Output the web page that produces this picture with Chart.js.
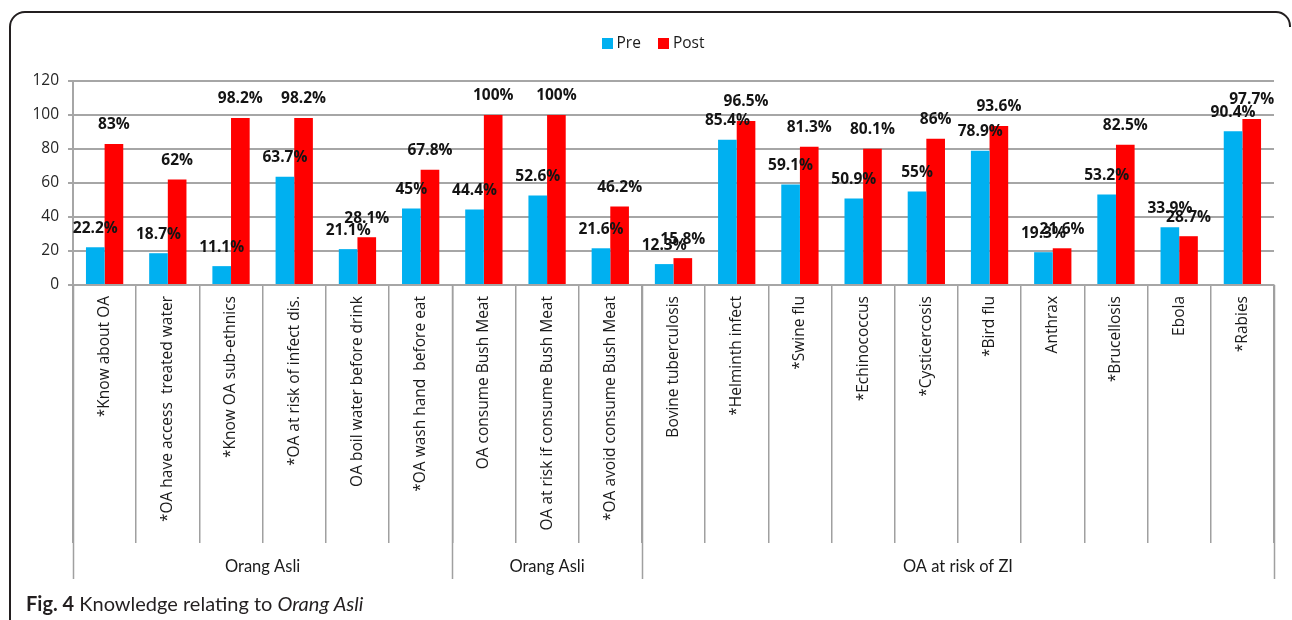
<!DOCTYPE html>
<html>
<head>
<meta charset="utf-8">
<title>Knowledge relating to Orang Asli</title>
<script src="https://cdn.jsdelivr.net/npm/chart.js@4.4.1/dist/chart.umd.min.js"></script>
<style>
  html, body { margin: 0; padding: 0; background: #ffffff; }
  #wrap { position: relative; width: 1292px; height: 620px; }
  canvas { display: block; }
</style>
</head>
<body>
<div id="wrap"><canvas id="chart" width="1292" height="620"></canvas></div>
<script>
// Survey items (x categories)
const categories = [
  '*Know about OA',
  '*OA have access  treated water',
  '*Know OA sub-ethnics',
  '*OA at risk of infect dis.',
  'OA boil water before drink',
  '*OA wash hand  before eat',
  'OA consume Bush Meat',
  'OA at risk if consume Bush Meat',
  '*OA avoid consume Bush Meat',
  'Bovine tuberculosis',
  '*Helminth infect',
  '*Swine flu',
  '*Echinococcus',
  '*Cysticercosis',
  '*Bird flu',
  'Anthrax',
  '*Brucellosis',
  'Ebola',
  '*Rabies'
];

// Category groups shown under the item labels
const groupNames = ['Orang Asli', 'Orang Asli', 'OA at risk of ZI'];
const groupSizes = [6, 3, 10];

// Percentages before and after the programme
const seriesNames = ['Pre', 'Post'];
const preValues  = [22.2, 18.7, 11.1, 63.7, 21.1, 45, 44.4, 52.6, 21.6, 12.3, 85.4, 59.1, 50.9, 55, 78.9, 19.3, 53.2, 33.9, 90.4];
const postValues = [83, 62, 98.2, 98.2, 28.1, 67.8, 100, 100, 46.2, 15.8, 96.5, 81.3, 80.1, 86, 93.6, 21.6, 82.5, 28.7, 97.7];

// Value axis ticks
const yTickValues = [0, 20, 40, 60, 80, 100, 120];

const captionParts = [
  { text: 'Fig. 4', style: 'bold' },
  { text: ' Knowledge relating to ', style: 'normal' },
  { text: 'Orang Asli', style: 'italic' }
];

const PRE_COLOR = '#00B0F0';
const POST_COLOR = '#FF0000';
const GRID_COLOR = '#a6a6a6';
const SEP_COLOR = '#a0a0a0';

// Value labels above every bar
const valueLabels = {
  id: 'valueLabels',
  afterDatasetsDraw(chart) {
    const ctx = chart.ctx;
    ctx.save();
    ctx.font = 'bold 15.5px "Open Sans"';
    ctx.fillStyle = '#141414';
    ctx.textAlign = 'center';
    ctx.textBaseline = 'middle';
    chart.data.datasets.forEach((ds, di) => {
      const meta = chart.getDatasetMeta(di);
      meta.data.forEach((bar, i) => {
        ctx.fillText(ds.data[i] + '%', bar.x, bar.y - 19);
      });
    });
    ctx.restore();
  }
};

// Group separators and group names below the category labels
const groupAxis = {
  id: 'groupAxis',
  afterDraw(chart) {
    const ctx = chart.ctx;
    const xs = chart.scales.x;
    const area = chart.chartArea;
    const step = xs.getPixelForTick(1) - xs.getPixelForTick(0);
    ctx.save();
    ctx.strokeStyle = SEP_COLOR;
    ctx.lineWidth = 1.5;
    ctx.fillStyle = '#1a1a1a';
    ctx.font = '16.5px Lato';
    ctx.textAlign = 'center';
    ctx.textBaseline = 'alphabetic';
    let start = 0;
    const edges = [xs.getPixelForTick(0) - step / 2];
    groupSizes.forEach((n, g) => {
      const left = xs.getPixelForTick(start) - step / 2;
      const right = xs.getPixelForTick(start + n - 1) + step / 2;
      edges.push(right);
      ctx.fillText(groupNames[g], (left + right) / 2, 572);
      start += n;
    });
    edges.forEach(x => {
      const px = Math.round(x) + 0.5;
      ctx.beginPath();
      ctx.moveTo(px, area.bottom);
      ctx.lineTo(px, 579);
      ctx.stroke();
    });
    ctx.restore();
  }
};

// Legend row at the top
const topLegend = {
  id: 'topLegend',
  afterDraw(chart) {
    const ctx = chart.ctx;
    ctx.save();
    ctx.font = '15.5px "Open Sans"';
    ctx.textBaseline = 'middle';
    const box = 11, gap = 4, spacing = 17;
    const items = chart.data.datasets.map(d => ({ label: d.label, color: d.backgroundColor, w: ctx.measureText(d.label).width }));
    const total = items.reduce((s, it) => s + box + gap + it.w, 0) + spacing * (items.length - 1);
    let x = 653 - total / 2;
    const cy = 44;
    items.forEach(it => {
      ctx.fillStyle = it.color;
      ctx.fillRect(Math.round(x), cy - 6, box, box);
      ctx.fillStyle = '#1a1a1a';
      ctx.textAlign = 'left';
      ctx.fillText(it.label, x + box + gap, cy);
      x += box + gap + it.w + spacing;
    });
    ctx.restore();
  }
};

// Figure frame and caption
const frameCaption = {
  id: 'frameCaption',
  afterDraw(chart) {
    const ctx = chart.ctx;
    ctx.save();
    ctx.strokeStyle = '#231f20';
    ctx.lineWidth = 2;
    ctx.beginPath();
    ctx.moveTo(10, 620);
    ctx.lineTo(10, 27);
    ctx.arcTo(10, 12, 25, 12, 15);
    ctx.lineTo(1276, 12);
    ctx.arcTo(1290, 12, 1290, 26, 14);
    ctx.lineTo(1290, 27);
    ctx.stroke();

    let x = 26;
    const y = 611;
    ctx.fillStyle = '#231f20';
    ctx.textBaseline = 'alphabetic';
    ctx.textAlign = 'left';
    captionParts.forEach(p => {
      ctx.font = (p.style === 'bold' ? 'bold ' : p.style === 'italic' ? 'italic ' : '') + '20px Lato';
      ctx.fillText(p.text, x, y);
      x += ctx.measureText(p.text).width;
    });
    ctx.restore();
  }
};

new Chart(document.getElementById('chart'), {
  type: 'bar',
  data: {
    labels: categories,
    datasets: [
      { label: seriesNames[0], data: preValues, backgroundColor: PRE_COLOR, borderWidth: 0 },
      { label: seriesNames[1], data: postValues, backgroundColor: POST_COLOR, borderWidth: 0 }
    ]
  },
  options: {
    responsive: false,
    animation: false,
    devicePixelRatio: 1,
    layout: { padding: { top: 81, right: 18, bottom: 0, left: 0 } },
    datasets: { bar: { categoryPercentage: 0.59, barPercentage: 1.0 } },
    plugins: {
      legend: { display: false },
      tooltip: { enabled: false },
      title: { display: false }
    },
    scales: {
      x: {
        offset: true,
        grid: {
          display: true,
          drawOnChartArea: false,
          drawTicks: true,
          offset: true,
          tickLength: 258,
          color: SEP_COLOR,
          lineWidth: 1.5
        },
        border: { display: true, color: GRID_COLOR, width: 2 },
        ticks: {
          autoSkip: false,
          minRotation: 90,
          maxRotation: 90,
          padding: -247,
          color: '#1a1a1a',
          font: { family: 'Open Sans', size: 15.5 }
        },
        afterFit(scale) { scale.height = 335; }
      },
      y: {
        min: 0,
        max: 120,
        afterBuildTicks(scale) { scale.ticks = yTickValues.map(v => ({ value: v })); },
        ticks: {
          padding: 9,
          color: '#262626',
          font: { family: 'Open Sans', size: 15.5 }
        },
        grid: { color: GRID_COLOR, lineWidth: 2, tickLength: 5 },
        border: { display: true, color: GRID_COLOR, width: 2 },
        afterFit(scale) { scale.width = 73; }
      }
    }
  },
  plugins: [valueLabels, groupAxis, topLegend, frameCaption]
});
</script>
</body>
</html>
